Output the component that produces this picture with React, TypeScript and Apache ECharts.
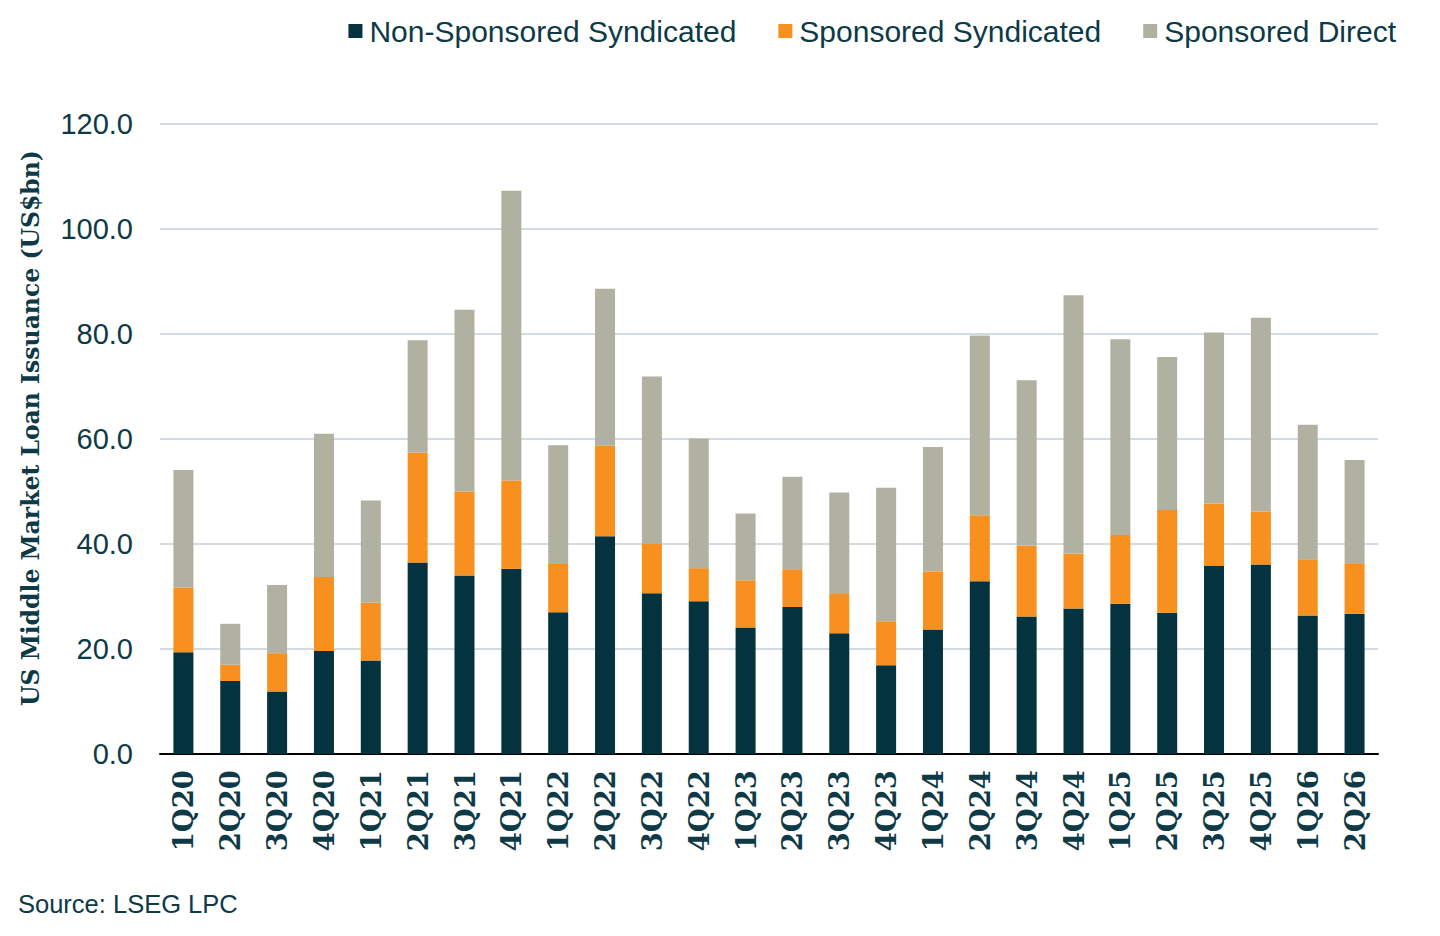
import React, { useEffect, useRef } from "react";
import * as echarts from "echarts";

const categories = [
  "1Q20", "2Q20", "3Q20", "4Q20", "1Q21", "2Q21", "3Q21", "4Q21", "1Q22", "2Q22",
  "3Q22", "4Q22", "1Q23", "2Q23", "3Q23", "4Q23", "1Q24", "2Q24", "3Q24", "4Q24",
  "1Q25", "2Q25", "3Q25", "4Q25", "1Q26", "2Q26",
];

// Stack tops
const nonSponsoredSyndicated = [
  19.4, 13.9, 11.9, 19.6, 17.8, 36.5, 34.0, 35.3, 27.0, 41.5,
  30.6, 29.1, 24.1, 28.0, 23.0, 16.9, 23.7, 32.9, 26.2, 27.7,
  28.6, 26.9, 35.8, 36.1, 26.4, 26.7,
];
const sponsoredSyndicatedTop = [
  31.7, 17.0, 19.2, 33.7, 28.8, 57.4, 50.0, 52.1, 36.2, 58.7,
  40.0, 35.4, 33.1, 35.2, 30.5, 25.3, 34.7, 45.5, 39.7, 38.2,
  41.7, 46.5, 47.7, 46.2, 37.1, 36.2,
];
const totalTop = [
  54.1, 24.8, 32.2, 61.0, 48.3, 78.8, 84.6, 107.3, 58.8, 88.6,
  71.9, 60.1, 45.8, 52.8, 49.8, 50.7, 58.5, 79.7, 71.2, 87.4,
  79.0, 75.6, 80.3, 83.1, 62.7, 56.0,
];

const sponsoredSyndicated = sponsoredSyndicatedTop.map((t, i) =>
  Math.round((t - nonSponsoredSyndicated[i]) * 10) / 10
);
const sponsoredDirect = totalTop.map((t, i) =>
  Math.round((t - sponsoredSyndicatedTop[i]) * 10) / 10
);

const seriesNames = ["Non-Sponsored Syndicated", "Sponsored Syndicated", "Sponsored Direct"];
const colors = ["#04323e", "#f7901e", "#b1b1a1"];
const textColor = "#0d3a46";

export default function App() {
  const ref = useRef<HTMLDivElement>(null);

  useEffect(() => {
    document.body.style.margin = "0";
    if (!ref.current) return;
    const chart = echarts.init(ref.current, undefined, { renderer: "svg" });
    const data = [nonSponsoredSyndicated, sponsoredSyndicated, sponsoredDirect];
    chart.setOption({
      animation: false,
      color: colors,
      legend: {
        top: 11,
        right: 39,
        icon: "rect",
        itemWidth: 14,
        itemHeight: 14,
        itemGap: 42,
        textStyle: {
          fontFamily: "Liberation Sans",
          fontSize: 30,
          color: textColor,
          padding: [0, 0, 0, 2],
        },
        data: seriesNames,
      },
      grid: { left: 160, right: 62, top: 124, bottom: 182, containLabel: false },
      xAxis: {
        type: "category",
        data: categories,
        axisLine: { show: true, lineStyle: { color: "#000", width: 2 } },
        axisTick: { show: false },
        axisLabel: {
          rotate: 90,
          margin: 16,
          fontFamily: "DejaVu Serif",
          fontWeight: "bold",
          fontSize: 27.5,
          color: textColor,
          interval: 0,
        },
      },
      yAxis: {
        type: "value",
        min: 0,
        max: 120,
        interval: 20,
        axisLine: { show: false },
        axisTick: { show: false },
        splitLine: { lineStyle: { color: "#d3dbe0", width: 2 } },
        axisLabel: {
          margin: 27,
          fontFamily: "Liberation Sans",
          fontSize: 29,
          color: textColor,
          formatter: (v: number) => v.toFixed(1),
        },
      },
      graphic: [
        {
          type: "text",
          x: 31,
          y: 428,
          rotation: Math.PI / 2,
          style: {
            text: "US Middle Market Loan Issuance (US$bn)",
            fontFamily: "DejaVu Serif",
            fontWeight: "bold",
            fontSize: 23.5,
            fill: textColor,
            align: "center",
            verticalAlign: "middle",
          },
        },
        {
          type: "text",
          x: 18,
          y: 904,
          style: {
            text: "Source: LSEG LPC",
            fontFamily: "Liberation Sans",
            fontSize: 25.5,
            fill: textColor,
            align: "left",
            verticalAlign: "middle",
          },
        },
      ],
      series: seriesNames.map((name, i) => ({
        name,
        type: "bar",
        stack: "total",
        barWidth: 20,
        data: data[i],
        itemStyle: { color: colors[i] },
      })),
    });
    return () => chart.dispose();
  }, []);

  return <div ref={ref} style={{ width: 1440, height: 936 }} />;
}
